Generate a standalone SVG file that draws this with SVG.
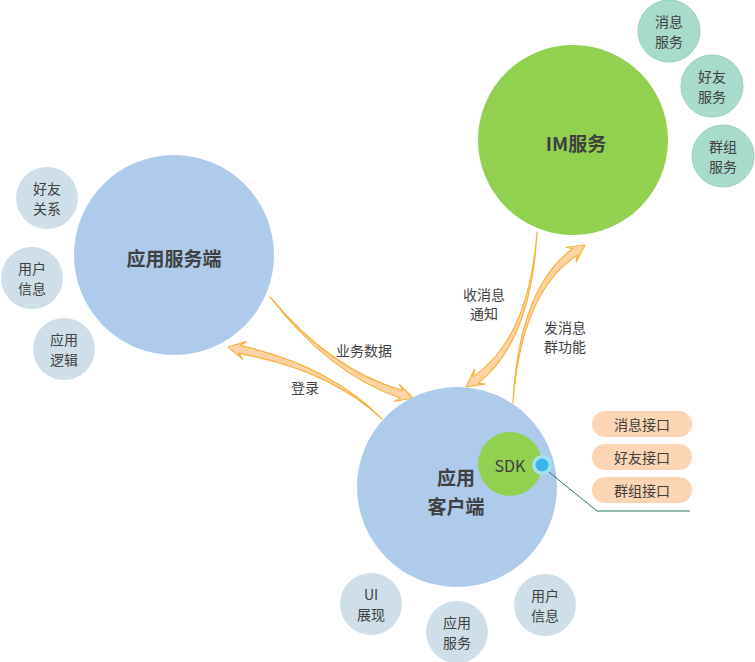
<svg xmlns="http://www.w3.org/2000/svg" width="755" height="662" viewBox="0 0 755 662">
  <style>
    text { font-family: "Noto Sans CJK SC", "Noto Sans", sans-serif; fill: #404040; text-anchor: middle; dominant-baseline: central; }
    .big { fill: #aecbeb; }
    .im { fill: #92d050; }
    .sub { fill: #cfdfe9; }
    .svc { fill: #a9dbcc; stroke: #93d2bf; stroke-width: 1; }
    .pill { fill: #fcd5b4; }
    .title { font-size: 19px; font-weight: bold; }
    .small { font-size: 14px; }
    .arrow { fill: #fed3a6; stroke: #f8b13a; stroke-width: 1.2; stroke-linejoin: round; }
  </style>

  <!-- connectors -->
  <g id="connectors">
    <path class="arrow" d="M270,297 Q329.4,373.9 400.35,398.23 L394.09,401.51 L413,398 L399.47,384.33 L402.75,390.59 Q330.6,370.1 270,297 Z"/>
    <path class="arrow" d="M382,419 Q330.4,366.04 240.56,345.5 L246.47,341.61 L228,347 L242.83,359.25 L238.94,353.34 Q329.6,369.96 382,419 Z"/>
    <path class="arrow" d="M537,232 Q528.82,338.39 473.3,376.68 L474.37,369.69 L466,387 L485.03,384.19 L478.04,383.12 Q531.18,341.61 537,232 Z"/>
    <path class="arrow" d="M513,403 Q521.14,291.64 577.41,255.12 L576.15,262.07 L585,245 L565.91,247.27 L572.85,248.54 Q518.86,288.36 513,403 Z"/>
    <text class="small" x="364" y="350">业务数据</text>
    <text class="small" x="305" y="387">登录</text>
    <text class="small" x="484" y="294">收消息</text>
    <text class="small" x="484" y="313">通知</text>
    <text class="small" x="565" y="327">发消息</text>
    <text class="small" x="565" y="346">群功能</text>
  </g>

  <!-- application server -->
  <g id="app-server">
    <circle class="big" cx="174" cy="255" r="100"/>
    <text class="title" x="174" y="257">应用服务端</text>
  </g>
  <g id="friend-relation">
    <circle class="sub" cx="47" cy="198" r="31"/>
    <text class="small" x="47" y="188">好友</text>
    <text class="small" x="47" y="208">关系</text>
  </g>
  <g id="user-info-server">
    <circle class="sub" cx="32" cy="278" r="31"/>
    <text class="small" x="32" y="268">用户</text>
    <text class="small" x="32" y="288">信息</text>
  </g>
  <g id="app-logic">
    <circle class="sub" cx="64" cy="349" r="31"/>
    <text class="small" x="64" y="339">应用</text>
    <text class="small" x="64" y="359">逻辑</text>
  </g>

  <!-- IM service -->
  <g id="im-service">
    <circle class="im" cx="573" cy="140" r="95"/>
    <text class="title" x="576" y="142">IM服务</text>
  </g>
  <g id="msg-service">
    <circle class="svc" cx="669" cy="31" r="31"/>
    <text class="small" x="669" y="21">消息</text>
    <text class="small" x="669" y="41">服务</text>
  </g>
  <g id="friend-service">
    <circle class="svc" cx="712" cy="86" r="31"/>
    <text class="small" x="712" y="76">好友</text>
    <text class="small" x="712" y="96">服务</text>
  </g>
  <g id="group-service">
    <circle class="svc" cx="723" cy="156" r="31"/>
    <text class="small" x="723" y="146">群组</text>
    <text class="small" x="723" y="166">服务</text>
  </g>

  <!-- application client -->
  <g id="app-client">
    <circle class="big" cx="457" cy="487" r="100"/>
    <text class="title" x="456" y="476">应用</text>
    <text class="title" x="456" y="505">客户端</text>
  </g>
  <g id="sdk">
    <circle class="im" cx="510" cy="464" r="32"/>
    <text x="510" y="465" style="font-size:16px">SDK</text>
  </g>
  <g id="sdk-port">
    <polyline points="544,468 597,511 690,511" fill="none" stroke="#2d7b6b" stroke-width="1"/>
    <circle cx="542" cy="465" r="10" fill="#a3e2f0"/>
    <circle cx="542" cy="465" r="6.5" fill="#3bb5ee"/>
  </g>
  <g id="msg-api">
    <rect class="pill" x="592" y="411" width="100" height="26" rx="13"/>
    <text class="small" x="642" y="424">消息接口</text>
  </g>
  <g id="friend-api">
    <rect class="pill" x="592" y="444" width="100" height="26" rx="13"/>
    <text class="small" x="642" y="457">好友接口</text>
  </g>
  <g id="group-api">
    <rect class="pill" x="592" y="477" width="100" height="26" rx="13"/>
    <text class="small" x="642" y="490">群组接口</text>
  </g>
  <g id="ui-display">
    <circle class="sub" cx="371" cy="604" r="31"/>
    <text class="small" x="371" y="594">UI</text>
    <text class="small" x="371" y="614">展现</text>
  </g>
  <g id="app-service">
    <circle class="sub" cx="457" cy="632" r="31"/>
    <text class="small" x="457" y="622">应用</text>
    <text class="small" x="457" y="642">服务</text>
  </g>
  <g id="user-info-client">
    <circle class="sub" cx="545" cy="605" r="31"/>
    <text class="small" x="545" y="595">用户</text>
    <text class="small" x="545" y="615">信息</text>
  </g>
</svg>
